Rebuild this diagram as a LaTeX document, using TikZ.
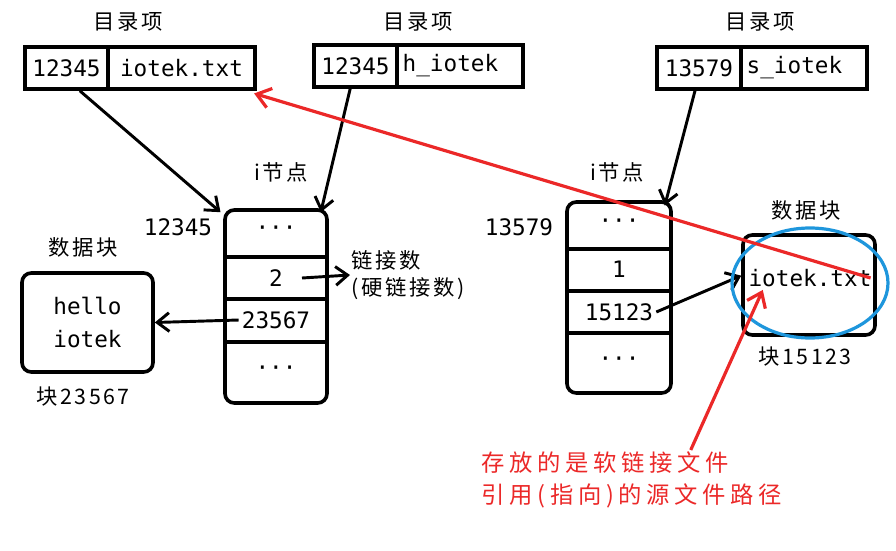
\documentclass[tikz,border=0pt]{standalone}
\usepackage{fontspec}
\setmainfont{Noto Sans CJK SC}
\newfontfamily\monofont{DejaVu Sans Mono}
\newfontfamily\cjkwide[LetterSpace=12]{Noto Sans CJK SC}
\newfontfamily\cjknote[LetterSpace=20]{Noto Sans CJK SC}
\usetikzlibrary{arrows.meta}
\tikzset{every picture/.style={line width=0.75pt}}

\begin{document}
\begin{tikzpicture}[x=0.75pt,y=0.75pt,yscale=-1,xscale=1,
  cell/.style={draw,line width=2.7pt,minimum height=31.5pt,inner sep=0pt,font=\monofont\fontsize{17}{20}\selectfont},
  box/.style={draw,line width=2.7pt,rounded corners=7pt,inner sep=0pt},
  mono/.style={inner sep=2pt,font=\monofont\fontsize{17}{20}\selectfont},
  lab/.style={inner sep=1pt,font=\cjkwide\fontsize{16}{20}\selectfont},
  link/.style={line width=2.2pt,-{Straight Barb[length=9pt,width=14pt,line width=2.2pt]}},
  redlink/.style={draw={rgb,255:red,235;green,40;blue,40},line width=2.4pt}
]
\useasboundingbox (0,0) rectangle (896,550);

%Shape: directory entries
\node[cell,minimum width=62.25pt] (id1) at (66.5,68) {12345};
\node[cell,minimum width=110.25pt] (nm1) at (181.5,68) {iotek.txt};
\node[cell,minimum width=62.25pt] (id2) at (355.5,66) {12345};
\node[cell,minimum width=94.5pt,text width=86pt] (nm2) at (460,66) {h\_iotek};
\node[cell,minimum width=63pt] (id3) at (699,68) {13579};
\node[cell,minimum width=94.5pt,text width=86pt] (nm3) at (804,68) {s\_iotek};

% Text Node
\node[lab] (t1) at (128,22) {目录项};
\node[lab] (t2) at (418,22) {目录项};
\node[lab] (t3) at (760,22) {目录项};

%Shape: i-nodes
\node[box,minimum width=76.5pt,minimum height=144.75pt] (in1) at (276,306.5) {};
\draw[line width=2.7pt] (225,257) -- (327,257) (225,299) -- (327,299) (225,342) -- (327,342);
\node[box,minimum width=78pt,minimum height=143.25pt] (in2) at (619,297.5) {};
\draw[line width=2.7pt] (567,249) -- (671,249) (567,291) -- (671,291) (567,333) -- (671,333);

% Text Node
\node[mono] (r11) at (276,231) {···};
\node[mono] (r12) at (276,278) {2};
\node[mono] (r13) at (276,320) {23567};
\node[mono] (r14) at (276,371) {···};
\node[mono] (r21) at (619,224) {···};
\node[mono] (r22) at (619,269) {1};
\node[mono] (r23) at (619,312) {15123};
\node[mono] (r24) at (619,362) {···};

\node[lab] (i1) at (281,172) {i节点};
\node[lab] (i2) at (617,172) {i节点};
\node[mono] (n1) at (178,227) {12345};
\node[mono] (n2) at (519,227) {13579};

%Shape: data blocks
\node[box,minimum width=98.25pt,minimum height=74.25pt,align=center,font=\monofont\fontsize{17}{25}\selectfont] (blk1) at (87.5,322.5) {hello\\iotek};
\node[box,minimum width=99pt,minimum height=75pt] (blk2) at (809,285) {};
\node[mono] (bt2) at (810,278) {iotek.txt};

\node[lab] (d1) at (83,247) {数据块};
\node[lab] (b1) at (83,397) {块23567};
\node[lab] (d2) at (806,210) {数据块};
\node[lab] (b2) at (805,357) {块15123};

\node[lab,align=left,anchor=west] (lk) at (350,275) {链接数\\(硬链接数)};

%Straight Lines
\draw[link] ([xshift=10pt]id1.south) -- ([shift={(-2pt,3pt)}]in1.north west);
\draw[link] ([xshift=-4pt]id2.south) -- ([shift={(-6pt,3pt)}]in1.north east);
\draw[link] ([xshift=-3pt]id3.south) -- ([shift={(-6pt,4pt)}]in2.north east);
\draw[link] (r13.west) -- (blk1.east);
\draw[link] ([xshift=12pt]r12.east) -- (lk.west);
\draw[link] (r23.east) -- ([yshift=-7pt]blk2.west);

% Blue ellipse
\draw[draw={rgb,255:red,30;green,150;blue,220},line width=2.4pt] (810,283) ellipse [x radius=78, y radius=55];

% Red note
\node[inner sep=1pt,align=left,anchor=north west,text={rgb,255:red,235;green,40;blue,40},font=\cjknote\fontsize{17.5}{24}\selectfont] (note) at (480,450) {存放的是软链接文件\\引用(指向)的源文件路径};
\draw[redlink,-{Straight Barb[length=10pt,width=15pt,line width=2.4pt]}] ([xshift=-3pt]bt2.east) -- ([shift={(-2pt,2pt)}]nm1.south east);
\draw[redlink,-{Straight Barb[length=10pt,width=15pt,line width=2.4pt]}] ([xshift=44pt]note.north) -- ([xshift=13pt]bt2.south west);

\end{tikzpicture}
\end{document}
